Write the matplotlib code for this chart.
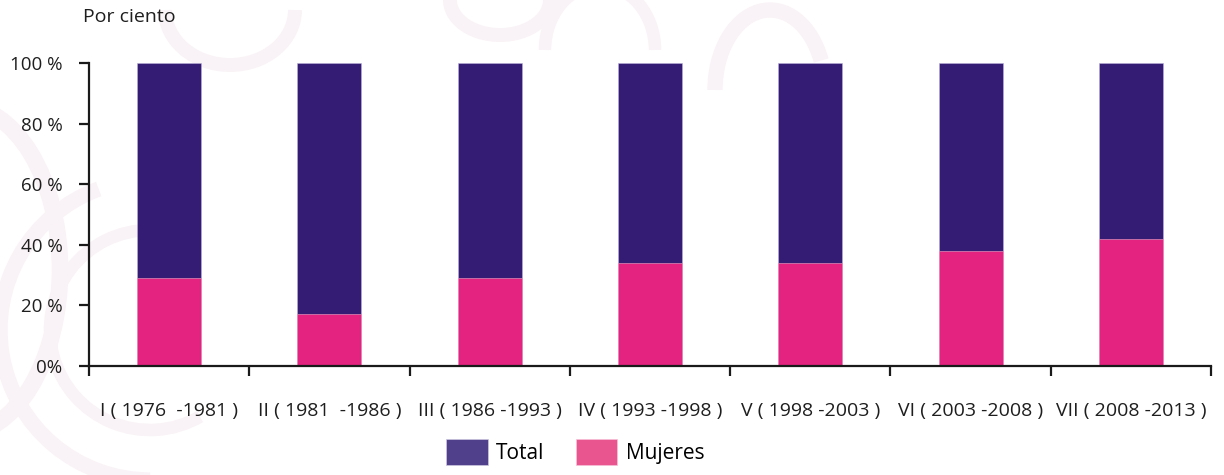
import matplotlib
matplotlib.use('Agg')
import matplotlib.pyplot as plt
from matplotlib.patches import Patch, Arc

plt.rcParams['font.family'] = ['Open Sans', 'DejaVu Sans']

periodos = ['I ( 1976  -1981 )', 'II ( 1981  -1986 )', 'III ( 1986 -1993 )',
            'IV ( 1993 -1998 )', 'V ( 1998 -2003 )', 'VI ( 2003 -2008 )',
            'VII ( 2008 -2013 )']
total = [100, 100, 100, 100, 100, 100, 100]
mujeres = [29, 17, 29, 34, 34, 38, 42]
yticks = [0, 20, 40, 60, 80, 100]
ylabels = ['0%', '20 %', '40 %', '60 %', '80 %', '100 %']

c_total = '#341c75'
c_muj = '#e3237f'
c_total_leg = '#503f8a'
c_muj_leg = '#e9558f'
c_marca = '#f9f2f6'
c_texto = '#1e1e1e'

fig = plt.figure(figsize=(12.24, 4.75), dpi=100)

# faint swirl decoration behind the chart
bg = fig.add_axes([0, 0, 1, 1], zorder=0)
bg.set_xlim(0, 1224)
bg.set_ylim(475, 0)
bg.axis('off')
for (cx, cy, w, h, t1, t2, lw) in [
        (150, 330, 300, 300, 90, 250, 11),
        (150, 330, 200, 200, 60, 270, 9),
        (-40, 270, 200, 330, 270, 90, 12),
        (230, 10, 130, 110, 0, 180, 10),
        (500, 0, 100, 70, 0, 190, 10),
        (600, 50, 110, 130, 180, 360, 9),
        (770, 90, 110, 160, 180, 330, 11)]:
    bg.add_patch(Arc((cx, cy), w, h, theta1=t1, theta2=t2,
                     color=c_marca, lw=lw))

ax = fig.add_axes([89 / 1224, 1 - 366 / 475, 1122 / 1224, 303 / 475], zorder=1)
ax.patch.set_alpha(0)

x = range(len(periodos))
ax.bar(x, total, width=0.4, color=c_total, edgecolor='#b9b0d6', linewidth=0.4)
ax.bar(x, mujeres, width=0.4, color=c_muj, edgecolor='#f3a6c8', linewidth=0.4)

ax.set_xlim(-0.5, len(periodos) - 0.5)
ax.set_ylim(0, 100)

for s in ['top', 'right']:
    ax.spines[s].set_visible(False)
for s in ['left', 'bottom']:
    ax.spines[s].set_linewidth(1.6)
    ax.spines[s].set_color('#1a1a1a')

ax.set_yticks(yticks)
ax.set_yticklabels(ylabels, fontsize=13.5, color=c_texto)
ax.tick_params(axis='y', length=7, width=1.6, pad=12, color='#1a1a1a')

# ticks sit between categories, labels centred under each bar
ax.set_xticks([i - 0.5 for i in range(len(periodos) + 1)])
ax.set_xticklabels([])
ax.set_xticks(list(x), minor=True)
ax.set_xticklabels(periodos, minor=True, fontsize=14, color=c_texto)
ax.tick_params(axis='x', which='major', length=7, width=1.6, color='#1a1a1a')
ax.tick_params(axis='x', which='minor', length=0, pad=26)

fig.text(83 / 1224, 1 - 17 / 475, 'Por ciento', fontsize=14,
         color=c_texto, va='center', ha='left')

handles = [Patch(facecolor=c_total_leg, edgecolor='#cfc9e2', lw=0.5, label='Total'),
           Patch(facecolor=c_muj_leg, edgecolor='#f6c2d7', lw=0.5, label='Mujeres')]
fig.legend(handles=handles, loc='center left', ncol=2, frameon=False,
           bbox_to_anchor=(446 / 1224, 1 - 452 / 475), fontsize=15,
           handlelength=2.0, handleheight=1.5, handletextpad=0.4,
           columnspacing=1.5, borderpad=0, borderaxespad=0)

fig.savefig('out.png', dpi=100)
